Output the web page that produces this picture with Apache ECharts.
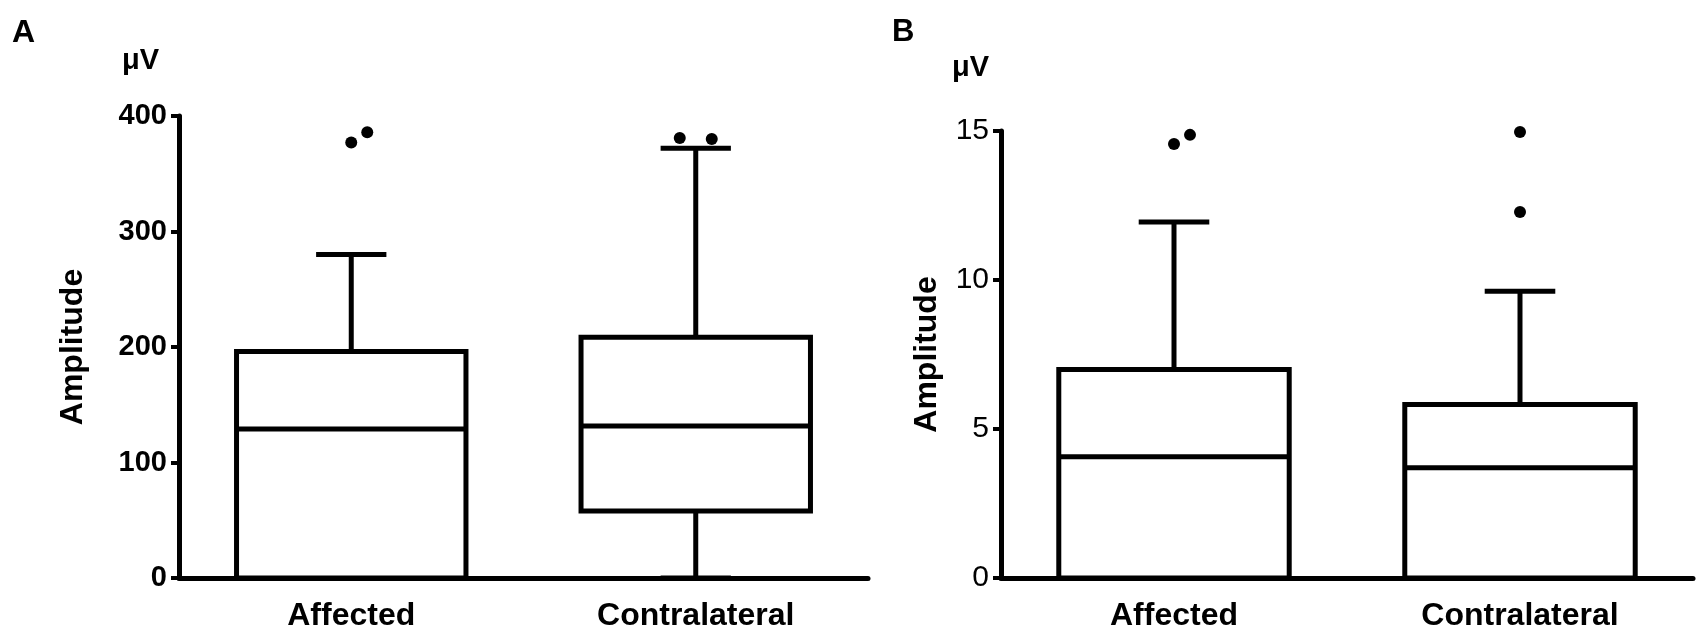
<!DOCTYPE html>
<html>
<head>
<meta charset="utf-8">
<title>Amplitude box plots</title>
<script src="https://cdn.jsdelivr.net/npm/echarts@6/dist/echarts.min.js"></script>
<style>
  html, body { margin: 0; padding: 0; background: #fff; }
  #chart { width: 1704px; height: 642px; }
</style>
</head>
<body>
<div id="chart"></div>
<script>
// categories shared by both panels
var categories = ['Affected', 'Contralateral'];

// panel A: min, Q1, median, Q3, max (uV)
var boxA = [
    [0, 0, 129, 196, 280],
    [0, 58, 131.5, 208.5, 372]
];
// panel A outliers: [category index, value]
var outliersA = [[0, 377], [0, 386], [1, 381], [1, 380]];
var ticksA = [0, 100, 200, 300, 400];

// panel B: min, Q1, median, Q3, max (uV)
var boxB = [
    [0, 0, 4.07, 7.0, 11.95],
    [0, 0, 3.7, 5.82, 9.62]
];
var outliersB = [[0, 14.56], [0, 14.87], [1, 12.28], [1, 14.97]];
var ticksB = [0, 5, 10, 15];

var fontFamily = '"Liberation Sans", Arial, sans-serif';

function renderBox(params, api) {
    var idx = api.value(0);
    var lo = api.coord([idx, api.value(1)]);
    var q1 = api.coord([idx, api.value(2)]);
    var md = api.coord([idx, api.value(3)]);
    var q3 = api.coord([idx, api.value(4)]);
    var hi = api.coord([idx, api.value(5)]);
    var band = api.size([1, 0])[0];
    var hw = band * 0.333;
    var cw = band * 0.102;
    var x = md[0];
    var st = { stroke: '#000', lineWidth: 5, fill: null };
    var children = [];
    // whiskers
    children.push({ type: 'line', shape: { x1: x, y1: q3[1], x2: x, y2: hi[1] }, style: st });
    children.push({ type: 'line', shape: { x1: x - cw, y1: hi[1], x2: x + cw, y2: hi[1] }, style: st });
    if (q1[1] !== lo[1]) {
        children.push({ type: 'line', shape: { x1: x, y1: q1[1], x2: x, y2: lo[1] }, style: st });
        children.push({ type: 'line', shape: { x1: x - cw, y1: lo[1], x2: x + cw, y2: lo[1] }, style: st });
    }
    // box and median
    children.push({
        type: 'rect',
        shape: { x: x - hw, y: q3[1], width: hw * 2, height: q1[1] - q3[1] },
        style: { stroke: '#000', lineWidth: 5, fill: '#fff', lineJoin: 'miter' }
    });
    children.push({ type: 'line', shape: { x1: x - hw, y1: md[1], x2: x + hw, y2: md[1] }, style: st });
    return { type: 'group', children: children };
}

// spread dots that would sit on top of each other, like the original plot does
function spreadDots(list, range) {
    var out = [];
    categories.forEach(function (c, ci) {
        var pts = list.filter(function (p) { return p[0] === ci; });
        pts.forEach(function (p, k) {
            var dx = 0;
            if (k > 0) {
                var prev = pts[k - 1];
                var d = Math.abs(p[1] - prev[1]) / range;
                if (d < 0.01) {
                    out[out.length - 1].symbolOffset = [-16, 0];
                    dx = 16;
                } else if (d < 0.04) {
                    dx = 16;
                }
            }
            out.push({ value: [p[0], p[1]], symbolOffset: [dx, 0] });
        });
    });
    return out;
}

function xAxisFor(grid) {
    return {
        type: 'category',
        gridIndex: grid,
        data: categories,
        axisLine: { lineStyle: { color: '#000', width: 5 } },
        axisTick: { alignWithLabel: true, length: 8, lineStyle: { color: '#000', width: 4 } },
        axisLabel: { color: '#000', fontSize: 32, fontWeight: 'bold', fontFamily: fontFamily, margin: 22 },
        splitLine: { show: false }
    };
}

function yAxisFor(grid, ticks, bold, gap) {
    return {
        type: 'value',
        gridIndex: grid,
        min: ticks[0],
        max: ticks[ticks.length - 1],
        interval: ticks[1] - ticks[0],
        name: 'Amplitude',
        nameLocation: 'middle',
        nameRotate: 90,
        nameGap: gap,
        nameTextStyle: { color: '#000', fontSize: 32, fontWeight: 'bold', fontFamily: fontFamily },
        axisLine: { show: true, lineStyle: { color: '#000', width: 5 } },
        axisTick: { show: true, length: 8, lineStyle: { color: '#000', width: 4 } },
        axisLabel: { color: '#000', fontSize: bold ? 29 : 30, fontWeight: bold ? 'bold' : 'normal',
                     fontFamily: fontFamily, margin: 12 },
        splitLine: { show: false }
    };
}

var chart = echarts.init(document.getElementById('chart'), null, { renderer: 'canvas' });

var option = {
    backgroundColor: '#fff',
    animation: false,
    grid: [
        { left: 179, right: 836, top: 116, bottom: 64 },
        { left: 1001, right: 11, top: 131, bottom: 64 }
    ],
    xAxis: [xAxisFor(0), xAxisFor(1)],
    yAxis: [yAxisFor(0, ticksA, true, 90), yAxisFor(1, ticksB, false, 58)],
    graphic: [
        { type: 'text', left: 12, top: 17, style: { text: 'A', font: 'bold 32px ' + fontFamily, fill: '#000' } },
        { type: 'text', left: 892, top: 17, style: { text: 'B', font: 'bold 31px ' + fontFamily, fill: '#000' } },
        { type: 'text', left: 122, top: 46, style: { text: 'μV', font: 'bold 29px ' + fontFamily, fill: '#000' } },
        { type: 'text', left: 952, top: 53, style: { text: 'μV', font: 'bold 29px ' + fontFamily, fill: '#000' } }
    ],
    series: [
        {
            type: 'custom',
            xAxisIndex: 0,
            yAxisIndex: 0,
            renderItem: renderBox,
            encode: { x: 0, y: [1, 2, 3, 4, 5] },
            data: boxA.map(function (d, i) { return [i].concat(d); }),
            z: 3
        },
        {
            type: 'scatter',
            xAxisIndex: 0,
            yAxisIndex: 0,
            symbolSize: 12,
            itemStyle: { color: '#000', opacity: 1 },
            data: spreadDots(outliersA, ticksA[ticksA.length - 1] - ticksA[0]),
            z: 4
        },
        {
            type: 'custom',
            xAxisIndex: 1,
            yAxisIndex: 1,
            renderItem: renderBox,
            encode: { x: 0, y: [1, 2, 3, 4, 5] },
            data: boxB.map(function (d, i) { return [i].concat(d); }),
            z: 3
        },
        {
            type: 'scatter',
            xAxisIndex: 1,
            yAxisIndex: 1,
            symbolSize: 12,
            itemStyle: { color: '#000', opacity: 1 },
            data: spreadDots(outliersB, ticksB[ticksB.length - 1] - ticksB[0]),
            z: 4
        }
    ]
};

chart.setOption(option);

window.onresize = function () {
    chart.resize();
};
</script>
</body>
</html>
